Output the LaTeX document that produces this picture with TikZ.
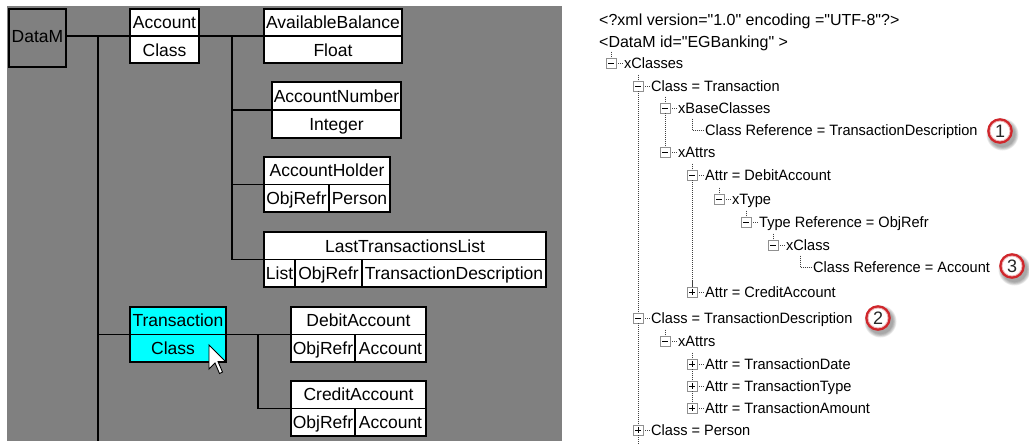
\documentclass[tikz,border=0pt]{standalone}
\usepackage{fontspec}
\setmainfont{Liberation Sans}
\newfontfamily\treefont[FakeStretch=0.97]{Liberation Sans}
\newfontfamily\rootfont[Ligatures=TeXOff]{Liberation Sans}
\usetikzlibrary{fit}

\definecolor{panelgrey}{HTML}{808080}
\definecolor{selcyan}{HTML}{00FFFF}
\definecolor{ringred}{HTML}{D0262B}
\definecolor{treeboxgrey}{HTML}{909090}
\definecolor{dotgrey}{HTML}{404040}

% expandable tree entry: name, box x, row y, 0 = minus / 1 = plus, text
\newcommand{\xmlnode}[5]{%
  \draw[treedots] (#2,#3-11.4) -- (#2,#3-5);
  \draw[treedots] (#2+5,#3) -- (#2+12,#3);
  \node[treebox] (#1box) at (#2,#3) {};
  \draw[treesign] (#2-3,#3) -- (#2+3,#3);
  \ifnum#4=1 \draw[treesign] (#2,#3-3) -- (#2,#3+3);\fi
  \node[treetext] (#1) at (#2+13,#3) {#5};
}
% leaf tree entry: name, elbow x, row y, text
\newcommand{\xmlleaf}[4]{%
  \draw[treedots] (#2,#3-11.4) -- (#2,#3) -- (#2+12,#3);
  \node[treetext] (#1) at (#2+13,#3) {#4};
}
% numbered red badge with soft shadow: name, x, y, number
\newcommand{\numbadge}[4]{%
  \foreach \r in {16,15.2,14.4,13.6,12.8}
    \fill[black, opacity=0.08] (#2+2.5,#3+3.5) circle (\r);
  \node[badge] (#1) at (#2,#3) {#4};
  \draw[ringred!35, line width=0.8pt] (#1.center) circle (10);
}

\begin{document}
\begin{tikzpicture}[x=1pt, y=-1pt,
  umlbox/.style={draw=black, line width=1.3pt, fill=white, inner sep=0pt},
  cellrule/.style={draw=black, line width=1.3pt},
  wire/.style={draw=black, line width=1.6pt},
  lbl/.style={inner sep=0pt, text height=12.5pt, text depth=0pt,
    font=\fontsize{17.5}{20}\selectfont},
  treedots/.style={draw=dotgrey, line width=0.9pt, dash pattern=on 0.9pt off 1.1pt},
  treebox/.style={draw=treeboxgrey, fill=white, line width=0.9pt,
    minimum size=10pt, inner sep=0pt},
  treesign/.style={draw=black, line width=0.9pt},
  treetext/.style={anchor=west, inner sep=0pt, text height=10.7pt, text depth=0pt,
    font=\treefont\fontsize{15}{18}\selectfont},
  roottext/.style={anchor=west, inner sep=0pt, text height=11.4pt, text depth=0pt,
    font=\rootfont\fontsize{16}{19}\selectfont},
  badge/.style={circle, draw=ringred, line width=2.6pt, fill=white,
    minimum size=23pt, inner sep=0pt, text=black!85,
    font=\fontsize{18}{18}\selectfont},
  cursorline/.style={draw=black, fill=white, line width=0.9pt, line join=miter}
]
\useasboundingbox (0,0) rectangle (1029,445);
\fill[white] (0,0) rectangle (1029,445);

% ---------------- class diagram panel ----------------
\fill[panelgrey] (7,6) rectangle (562,441);

% boxes
\node[umlbox, fill=panelgrey, fit={(9,9) (66,67)}] (datam) {};
\node[lbl] (datamtext) at (37.5,36) {DataM};

\node[umlbox, fit={(130,9) (199,63)}] (account) {};
\draw[cellrule] (account.west) -- (account.east);
\node[lbl] (accounttop) at (164.5,22) {Account};
\node[lbl] (accountbot) at (164.5,50) {Class};

\node[umlbox, fit={(264,9) (402,63)}] (avail) {};
\draw[cellrule] (avail.west) -- (avail.east);
\node[lbl] (availtop) at (333,22) {AvailableBalance};
\node[lbl] (availbot) at (333,50) {Float};

\node[umlbox, fit={(272,82) (401,138)}] (accnum) {};
\draw[cellrule] (accnum.west) -- (accnum.east);
\node[lbl] (accnumtop) at (336.5,96) {AccountNumber};
\node[lbl] (accnumbot) at (336.5,124) {Integer};

\node[umlbox, fit={(264,157) (390,212)}] (holder) {};
\draw[cellrule] (holder.west) -- (holder.east);
\draw[cellrule] (329,184.5) -- (329,212);
\node[lbl] (holdertop) at (327,170.5) {AccountHolder};
\node[lbl] (holderkind) at (296.5,198.5) {ObjRefr};
\node[lbl] (holdertype) at (359.5,198.5) {Person};

\node[umlbox, fit={(264,232) (546,287)}] (lastlist) {};
\draw[cellrule] (lastlist.west) -- (lastlist.east);
\draw[cellrule] (295,259.5) -- (295,287);
\draw[cellrule] (362,259.5) -- (362,287);
\node[lbl] (lastlisttop) at (405,246) {LastTransactionsList};
\node[lbl] (lastlistcoll) at (279.5,273.5) {List};
\node[lbl] (lastlistkind) at (328.5,273.5) {ObjRefr};
\node[lbl] (lastlisttype) at (454,273.5) {TransactionDescription};

\node[umlbox, fill=selcyan, fit={(130,307) (226,362)}] (trans) {};
\draw[cellrule] (trans.west) -- (trans.east);
\node[lbl] (transtop) at (178,320.5) {Transaction};
\node[lbl] (transbot) at (173,348) {Class};

\node[umlbox, fit={(291,307) (426,362)}] (debit) {};
\draw[cellrule] (debit.west) -- (debit.east);
\draw[cellrule] (355,334.5) -- (355,362);
\node[lbl] (debittop) at (358.5,320.5) {DebitAccount};
\node[lbl] (debitkind) at (323,348) {ObjRefr};
\node[lbl] (debittype) at (390.5,348) {Account};

\node[umlbox, fit={(291,381) (426,436)}] (credit) {};
\draw[cellrule] (credit.west) -- (credit.east);
\draw[cellrule] (355,408.5) -- (355,436);
\node[lbl] (credittop) at (358.5,394.5) {CreditAccount};
\node[lbl] (creditkind) at (323,422) {ObjRefr};
\node[lbl] (credittype) at (390.5,422) {Account};

% connectors
\coordinate (trunkend) at (98,441);
\coordinate (accsub) at (232,36);
\coordinate (transsub) at (258,334.5);
\draw[wire] (datam.east |- account.west) -- (account.west);
\draw[wire] (account.west -| trunkend) -- (trunkend);
\draw[wire] (trans.west -| trunkend) -- (trans.west);
\draw[wire] (account.east) -- (avail.west);
\draw[wire] (accsub) -- (accsub |- lastlist.west) -- (lastlist.west);
\draw[wire] (accsub |- accnum.west) -- (accnum.west);
\draw[wire] (accsub |- holder.west) -- (holder.west);
\draw[wire] (trans.east) -- (debit.west);
\draw[wire] (transsub) -- (transsub |- credit.west) -- (credit.west);

% mouse pointer
\draw[cursorline] (209,345) -- (209,369) -- (215,363) -- (219.5,373.5)
  -- (222.5,372) -- (218,361.5) -- (225.5,361.5) -- cycle;

% ---------------- XML tree panel ----------------
\node[roottext] (xmldecl) at (599,20) {<?xml version="1.0" encoding ="UTF-8"?>};
\node[roottext] (dmroot) at (599,42) {<DataM id="EGBanking" >};

\xmlnode{txclasses}{611}{63}{0}{xClasses}
\xmlnode{tctrans}{638}{86}{0}{Class = Transaction}
\xmlnode{txbase}{665}{108}{0}{xBaseClasses}
\xmlleaf{trefdesc}{692}{130}{Class Reference = TransactionDescription}
\xmlnode{txattrs}{665}{152}{0}{xAttrs}
\xmlnode{tdebit}{692}{175}{0}{Attr = DebitAccount}
\xmlnode{txtype}{719}{199}{0}{xType}
\xmlnode{ttyperef}{746}{222}{0}{Type Reference = ObjRefr}
\xmlnode{txclass}{773}{245}{0}{xClass}
\xmlleaf{trefacc}{800}{267}{Class Reference = Account}
\xmlnode{tcredit}{692}{292}{1}{Attr = CreditAccount}
\xmlnode{tcdesc}{638}{318}{0}{Class = TransactionDescription}
\xmlnode{tdattrs}{665}{341}{0}{xAttrs}
\xmlnode{tdate}{692}{364}{1}{Attr = TransactionDate}
\xmlnode{ttype}{692}{386}{1}{Attr = TransactionType}
\xmlnode{tamount}{692}{408}{1}{Attr = TransactionAmount}
\xmlnode{tperson}{638}{430}{1}{Class = Person}

% sibling links
\coordinate (treeend) at (638,445);
\draw[treedots] (tctransbox.south) -- (tcdescbox.north);
\draw[treedots] (tcdescbox.south) -- (tpersonbox.north);
\draw[treedots] (tpersonbox.south) -- (treeend);
\draw[treedots] (txbasebox.south) -- (txattrsbox.north);
\draw[treedots] (tdebitbox.south) -- (tcreditbox.north);
\draw[treedots] (tdatebox.south) -- (ttypebox.north);
\draw[treedots] (ttypebox.south) -- (tamountbox.north);

% numbered badges
\numbadge{badgeone}{1000}{131}{1}
\numbadge{badgetwo}{878}{318}{2}
\numbadge{badgethree}{1012}{266}{3}
\end{tikzpicture}
\end{document}
